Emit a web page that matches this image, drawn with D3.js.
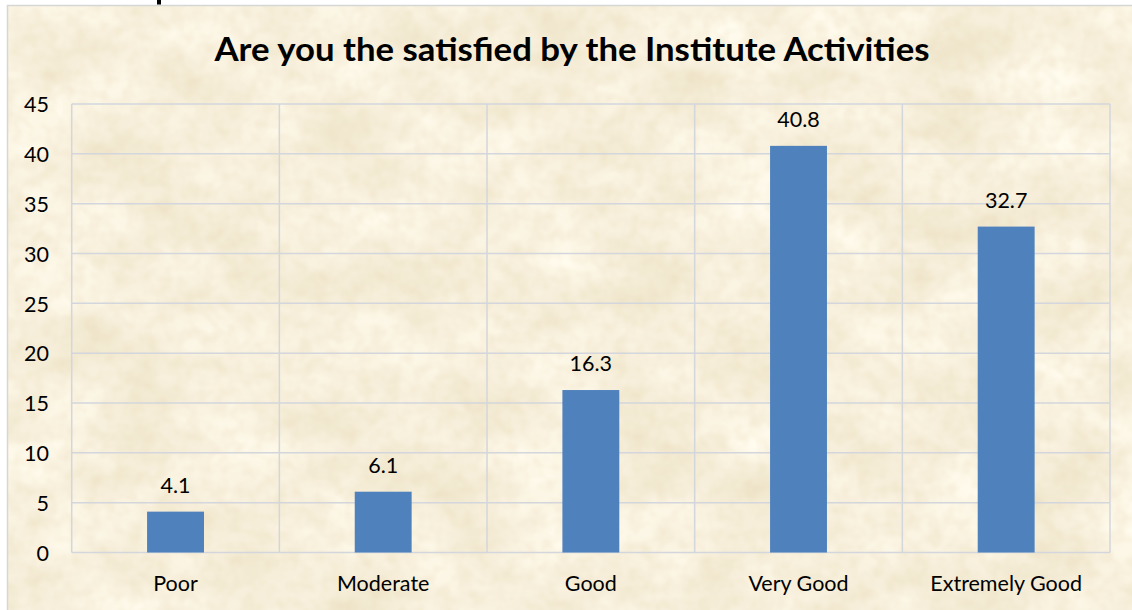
<!DOCTYPE html>
<html>
<head>
<meta charset="utf-8">
<script src="https://cdn.jsdelivr.net/npm/d3@7"></script>
<style>
  html, body { margin: 0; padding: 0; background: #ffffff; }
  svg { display: block; }
</style>
</head>
<body>
<svg id="chart" width="1132" height="610"></svg>
<script>
const categories = ["Poor", "Moderate", "Good", "Very Good", "Extremely Good"];
const values = [4.1, 6.1, 16.3, 40.8, 32.7];
const valueLabels = ["4.1", "6.1", "16.3", "40.8", "32.7"];
const yTicks = [0, 5, 10, 15, 20, 25, 30, 35, 40, 45];
const titleText = "Are you the satisfied by the Institute Activities";

const W = 1132, H = 610;
const svg = d3.select("#chart");
const font = "Lato, 'Noto Sans', sans-serif";

// parchment texture filter
const defs = svg.append("defs");
const f = defs.append("filter").attr("id", "parch").attr("x", 0).attr("y", 0).attr("width", "100%").attr("height", "100%");
f.append("feTurbulence").attr("type", "fractalNoise").attr("baseFrequency", "0.01 0.016").attr("numOctaves", 5).attr("seed", 7).attr("result", "n1");
f.append("feColorMatrix").attr("in", "n1").attr("type", "matrix")
  .attr("values", "0.2 0 0 0 0.84  0.26 0 0 0 0.75  0.36 0 0 0 0.55  0 0 0 0 1").attr("result", "c1");
f.append("feTurbulence").attr("type", "fractalNoise").attr("baseFrequency", "0.07").attr("numOctaves", 2).attr("seed", 3).attr("result", "n2");
f.append("feColorMatrix").attr("in", "n2").attr("type", "matrix")
  .attr("values", "0 0 0 0 0.80  0 0 0 0 0.67  0 0 0 0 0.43  0 0 0 -0.6 0.38").attr("result", "c2");
f.append("feComposite").attr("in", "c2").attr("in2", "c1").attr("operator", "over");

// chart area background
svg.append("rect").attr("x", 7.5).attr("y", 5.5).attr("width", W).attr("height", H)
  .attr("fill", "#f0dfba").attr("filter", "url(#parch)");
svg.append("rect").attr("x", 7.5).attr("y", 5.5).attr("width", W).attr("height", H)
  .attr("fill", "none").attr("stroke", "#d6d6d6").attr("stroke-width", 1.5);

// fragment of a glyph cut off above the chart (descender)
svg.append("rect").attr("x", 157).attr("y", 0).attr("width", 4).attr("height", 4.5).attr("fill", "#000");

const plot = { left: 71.7, right: 1110, top: 104, bottom: 552.5 };

const x = d3.scaleBand().domain(categories).range([plot.left, plot.right]).padding(0);
const y = d3.scaleLinear().domain([0, 45]).range([plot.bottom, plot.top]);
const barW = x.bandwidth() * 0.274;

const gridColor = "#d3d6dc";
const grid = svg.append("g");
grid.selectAll("line.h").data(yTicks).enter().append("line")
  .attr("x1", plot.left).attr("x2", plot.right)
  .attr("y1", d => y(d)).attr("y2", d => y(d))
  .attr("stroke", gridColor).attr("stroke-width", 1.5);
const vlines = categories.map(c => x(c)).concat([plot.right]);
grid.selectAll("line.v").data(vlines).enter().append("line")
  .attr("x1", d => d).attr("x2", d => d)
  .attr("y1", plot.top).attr("y2", plot.bottom)
  .attr("stroke", gridColor).attr("stroke-width", 1.5);

// y axis labels
const yAxis = d3.axisLeft(y).tickValues(yTicks).tickSize(0).tickPadding(0);
const ya = svg.append("g").attr("transform", `translate(49,0)`).call(yAxis);
ya.select(".domain").remove();
ya.selectAll("text").attr("font-family", font).attr("font-size", 21.5).attr("fill", "#000").attr("dy", "0.36em");

// x axis labels
const xAxis = d3.axisBottom(x).tickSize(0).tickPadding(0);
const xa = svg.append("g").attr("transform", `translate(0,575)`).call(xAxis);
xa.select(".domain").remove();
xa.selectAll("text").attr("font-family", font).attr("font-size", 21.5).attr("fill", "#000").attr("dy", "0.76em");

// bars
svg.append("g").selectAll("rect").data(values).enter().append("rect")
  .attr("x", (d, i) => x(categories[i]) + x.bandwidth() / 2 - barW / 2)
  .attr("y", d => y(d))
  .attr("width", barW)
  .attr("height", d => y(0) - y(d))
  .attr("fill", "#4f81bd");

// value labels
svg.append("g").selectAll("text").data(values).enter().append("text")
  .attr("x", (d, i) => x(categories[i]) + x.bandwidth() / 2)
  .attr("y", d => y(d) - 19)
  .attr("text-anchor", "middle")
  .attr("font-family", font).attr("font-size", 21.5).attr("fill", "#000")
  .text((d, i) => valueLabels[i]);

// title
svg.append("text").attr("x", 572).attr("y", 61).attr("text-anchor", "middle")
  .attr("font-family", font).attr("font-weight", "bold").attr("font-size", 32).attr("fill", "#000")
  .attr("textLength", 715).attr("lengthAdjust", "spacingAndGlyphs")
  .text(titleText);
</script>
</body>
</html>
